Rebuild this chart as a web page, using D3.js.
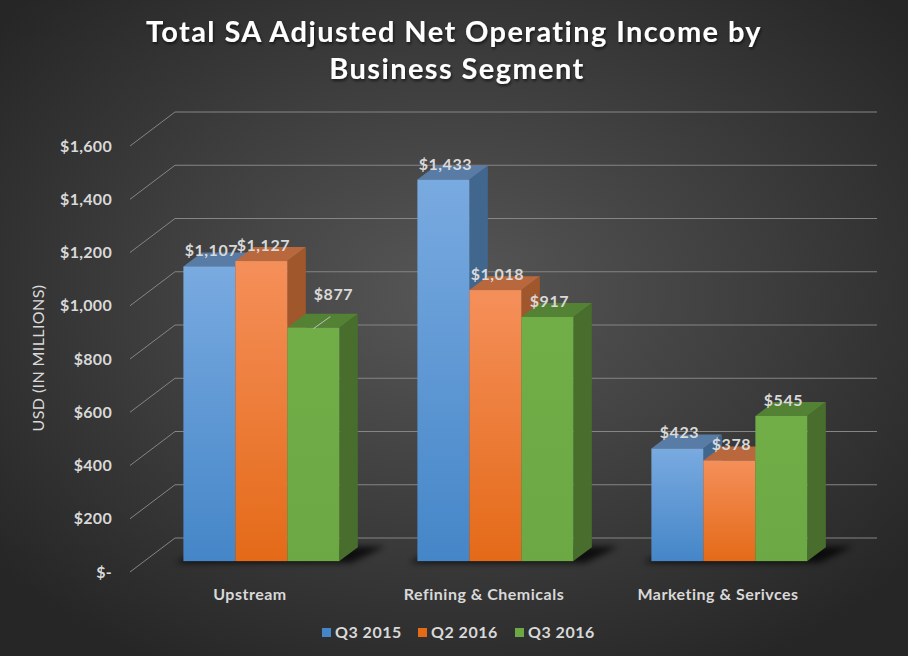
<!DOCTYPE html>
<html>
<head>
<meta charset="utf-8">
<script src="https://cdn.jsdelivr.net/npm/d3@7"></script>
<style>
  body { margin: 0; background: #333; }
  svg text { font-family: Lato, "Open Sans", sans-serif; }
</style>
</head>
<body>
<svg id="chart" width="908" height="656"></svg>
<script>
// chart values
var categories = ["Upstream", "Refining & Chemicals", "Marketing & Serivces"];
var seriesNames = ["Q3 2015", "Q2 2016", "Q3 2016"];
var q3_2015 = [1107, 1433, 423];
var q2_2016 = [1127, 1018, 378];
var q3_2016 = [877, 917, 545];
var yTicks = [0, 200, 400, 600, 800, 1000, 1200, 1400, 1600];

var seriesValues = [q3_2015, q2_2016, q3_2016];

// colours: front top / front bottom / top face / side face
var palette = [
  { hi: "#79aae0", lo: "#4586c8", top: "#587ca6", side: "#42678f" },
  { hi: "#f58f5a", lo: "#e46a18", top: "#b9683d", side: "#9f572b" },
  { hi: "#71ae48", lo: "#6ca843", top: "#548235", side: "#486d2c" }
];

var svg = d3.select("#chart");
var W = 908, H = 656;

// 3D depth offsets
var dx = 45, dy = 34;
var z0 = 0.32, z1 = 0.73;

var y = d3.scaleLinear().domain([0, 1600]).range([572, 146]);
var x = d3.scaleBand().domain(categories).range([130, 832]);
var inner = d3.scaleBand().domain(seriesNames).range([0, 156]);

function proj(xf, v, z) {
  return [xf + z * dx, y(v) - z * dy];
}

var defs = svg.append("defs");

// background
var bg = defs.append("radialGradient").attr("id", "bg")
  .attr("cx", "50%").attr("cy", "45%").attr("r", "65%");
bg.append("stop").attr("offset", "0%").attr("stop-color", "#575757");
bg.append("stop").attr("offset", "100%").attr("stop-color", "#262626");
svg.append("rect").attr("width", W).attr("height", H).attr("fill", "url(#bg)");

palette.forEach(function(p, i) {
  var g = defs.append("linearGradient").attr("id", "front" + i)
    .attr("x1", 0).attr("y1", 0).attr("x2", 0).attr("y2", 1);
  g.append("stop").attr("offset", "0%").attr("stop-color", p.hi);
  g.append("stop").attr("offset", "100%").attr("stop-color", p.lo);
});

defs.append("filter").attr("id", "blur")
  .attr("x", "-20%").attr("y", "-50%").attr("width", "140%").attr("height", "200%")
  .append("feGaussianBlur").attr("stdDeviation", 3);

var tshadow = defs.append("filter").attr("id", "tshadow")
  .attr("x", "-5%").attr("y", "-20%").attr("width", "110%").attr("height", "150%");
tshadow.append("feDropShadow")
  .attr("dx", 1).attr("dy", 2).attr("stdDeviation", 1.5)
  .attr("flood-color", "#000").attr("flood-opacity", 0.6);

// gridlines (front diagonal + back wall)
var grid = svg.append("g").attr("stroke", "#858585").attr("stroke-width", 1).attr("fill", "none");
yTicks.forEach(function(t) {
  var a = proj(130, t, 0), b = proj(130, t, 1), c = proj(832, t, 1);
  grid.append("polyline")
    .attr("points", [a, b, c].map(function(p) { return p.join(","); }).join(" "));
});

// tick labels
var axis = d3.axisLeft(y).tickValues(yTicks).tickSize(0).tickPadding(0)
  .tickFormat(function(d) { return d === 0 ? "$-" : "$" + d3.format(",")(d); });
var ax = svg.append("g").attr("transform", "translate(112,0)").call(axis);
ax.select(".domain").remove();
ax.selectAll("text")
  .attr("fill", "#d9d9d9")
  .style("font-size", "16px")
  .style("font-weight", "bold")
  .style("letter-spacing", "0.3px")
  .style("font-family", "Lato, sans-serif");

// axis title
svg.append("text")
  .attr("transform", "translate(44,358) rotate(-90)")
  .attr("text-anchor", "middle")
  .attr("fill", "#d9d9d9")
  .style("font-size", "16px")
  .style("letter-spacing", "0.4px")
  .text("USD (IN MILLIONS)");

function pts(list) {
  return list.map(function(p) { return p.join(","); }).join(" ");
}

// bars
var barW = inner.bandwidth();
categories.forEach(function(cat, ci) {
  var gx = x(cat) + (x.bandwidth() - 156) / 2;
  var g = svg.append("g");

  // floor shadow
  g.append("polygon")
    .attr("points", pts([
      proj(gx - 6, 0, z0 - 0.05), proj(gx + 156 + 14, 0, z0 - 0.05),
      proj(gx + 156 + 26, 0, z1 + 0.02), proj(gx + 4, 0, z1 + 0.02)
    ]))
    .attr("fill", "#000").attr("opacity", 0.75).attr("filter", "url(#blur)");

  seriesNames.forEach(function(s, si) {
    var v = seriesValues[si][ci];
    var L = gx + inner(s), R = L + barW;
    var p = palette[si];
    g.append("polygon")
      .attr("points", pts([proj(R, 0, z0), proj(R, v, z0), proj(R, v, z1), proj(R, 0, z1)]))
      .attr("fill", p.side);
    g.append("polygon")
      .attr("points", pts([proj(L, v, z0), proj(R, v, z0), proj(R, v, z1), proj(L, v, z1)]))
      .attr("fill", p.top);
    var f = proj(L, v, z0);
    g.append("rect")
      .attr("x", f[0]).attr("y", f[1])
      .attr("width", barW).attr("height", y(0) - y(v))
      .attr("fill", "url(#front" + si + ")");
  });
});

// data labels
var moved = { "2-0": [18, -18] }; // label dragged off the bar, with leader line
var labels = svg.append("g");
categories.forEach(function(cat, ci) {
  var gx = x(cat) + (x.bandwidth() - 156) / 2;
  seriesNames.forEach(function(s, si) {
    var v = seriesValues[si][ci];
    var f = proj(gx + inner(s) + barW / 2, v, z0);
    var off = moved[si + "-" + ci] || [0, 0];
    var lx = f[0] + 2 + off[0], ly = f[1] - 10 + off[1];
    if (moved[si + "-" + ci]) {
      labels.append("line")
        .attr("x1", f[0]).attr("y1", f[1] + 1)
        .attr("x2", f[0] + 17).attr("y2", f[1] - 11)
        .attr("stroke", "#bfbfbf").attr("stroke-width", 1);
    }
    labels.append("text")
      .attr("x", lx).attr("y", ly)
      .attr("text-anchor", "middle")
      .attr("fill", "#d9d9d9")
      .style("font-size", "16px")
      .style("font-weight", "bold")
      .style("letter-spacing", "0.5px")
      .text("$" + d3.format(",")(v));
  });
});

// category labels
svg.append("g").selectAll("text").data(categories).join("text")
  .attr("x", function(d) { return x(d) + x.bandwidth() / 2 + 3; })
  .attr("y", 600)
  .attr("text-anchor", "middle")
  .attr("fill", "#d9d9d9")
  .style("font-size", "16px")
  .style("font-weight", "bold")
  .style("letter-spacing", "0.5px")
  .text(function(d) { return d; });

// legend
var legendX = [322, 418, 515];
var leg = svg.append("g");
seriesNames.forEach(function(s, i) {
  leg.append("rect")
    .attr("x", legendX[i]).attr("y", 628)
    .attr("width", 9).attr("height", 9)
    .attr("fill", palette[i].lo);
  leg.append("text")
    .attr("x", legendX[i] + 13).attr("y", 638)
    .attr("fill", "#d9d9d9")
    .style("font-size", "16px")
    .style("font-weight", "bold")
    .style("letter-spacing", "0.5px")
    .text(s);
});

// title
var title = svg.append("text")
  .attr("text-anchor", "middle")
  .attr("fill", "#ffffff")
  .attr("filter", "url(#tshadow)")
  .style("font-size", "29px")
  .style("font-weight", "bold")
  .style("letter-spacing", "1.4px");
title.append("tspan").attr("x", 454).attr("y", 42).text("Total SA Adjusted Net Operating Income by");
title.append("tspan").attr("x", 457).attr("y", 79).text("Business Segment");
</script>
</body>
</html>
